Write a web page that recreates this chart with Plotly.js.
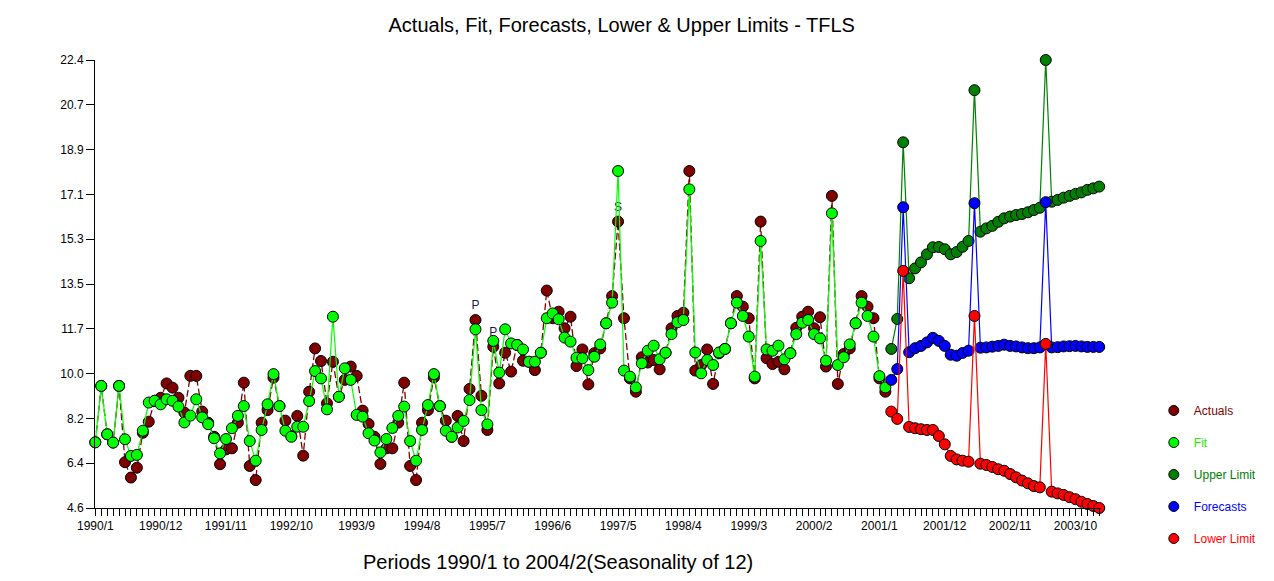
<!DOCTYPE html>
<html><head><meta charset="utf-8">
<script src="https://cdn.plot.ly/plotly-3.0.1.min.js"></script>
<style>html,body{margin:0;padding:0;background:#fff}#chart{width:1274px;height:581px}</style>
</head><body><div id="chart"></div>
<script>
// ---- data ----
const xTickLabels = ['1990/1','1990/12','1991/11','1992/10','1993/9','1994/8','1995/7','1996/6','1997/5','1998/4','1999/3','2000/2','2001/1','2001/12','2002/11','2003/10'];
const xTickEvery = 11;
const yTickLabels = ['4.6','6.4','8.2','10.0','11.7','13.5','15.3','17.1','18.9','20.7','22.4'];
const yMin = 4.6, yMax = 22.4;

// monthly values from 1990/1
const actuals = [
 7.21,9.45,7.53,7.20,9.45,6.42,5.81,6.20,7.59,8.03,8.86,8.98,
 9.55,9.38,8.98,8.39,9.85,9.85,8.43,7.99,7.43,6.34,6.93,6.97,
 7.99,9.58,6.27,5.71,7.99,8.49,9.78,8.65,8.07,7.46,8.26,6.68,
 9.22,10.94,10.44,8.76,10.41,9.02,9.69,10.22,9.85,8.47,7.94,7.43,
 6.35,6.97,6.97,7.99,9.58,6.27,5.71,7.99,8.49,9.79,8.65,8.07,
 7.43,8.26,7.26,9.33,12.07,9.06,7.70,11.01,9.55,10.77,10.02,11.08,
 10.45,10.41,10.08,10.77,13.24,12.14,12.40,11.74,12.20,10.24,10.90,9.51,
 10.75,10.94,11.94,13.02,15.98,12.14,9.75,9.22,10.59,10.38,10.48,10.11,
 10.77,11.74,12.23,12.36,17.99,10.06,10.28,10.90,9.53,10.75,10.92,11.94,
 13.02,12.60,12.14,9.75,15.98,10.55,10.32,10.41,10.11,10.75,11.76,12.20,
 12.40,11.74,12.18,10.22,17.00,9.53,10.72,10.94,11.94,13.02,12.60,12.14,
 9.75,9.22];
const fit = [
 7.21,9.45,7.53,7.20,9.45,7.33,6.67,6.71,7.67,8.79,8.86,8.72,
 8.92,8.86,8.63,8.00,8.27,8.92,8.20,7.93,7.37,6.77,7.34,7.77,
 8.26,8.65,7.26,6.48,7.70,8.72,9.92,8.65,7.67,7.43,7.83,7.83,
 8.85,10.04,9.75,8.52,12.20,9.02,10.15,9.69,8.30,8.23,7.57,7.28,
 6.81,7.34,7.78,8.26,8.63,7.26,6.48,7.70,8.69,9.92,8.65,7.67,
 7.43,7.80,8.06,8.89,11.70,8.49,7.92,11.24,9.98,11.70,11.14,11.08,
 10.90,10.41,10.41,10.77,12.14,12.33,12.10,11.37,11.21,10.57,10.55,10.08,
 10.61,11.10,11.94,12.76,17.99,10.06,9.82,9.39,10.35,10.85,11.05,10.51,
 10.77,11.51,11.98,12.07,17.26,10.78,9.95,10.48,10.28,10.78,10.92,11.94,
 12.76,12.23,11.41,9.82,15.21,10.90,10.85,11.05,10.51,10.75,11.51,11.96,
 12.07,11.51,11.34,10.45,16.31,10.28,10.59,11.10,11.94,12.76,12.23,11.41,
 9.84,9.39];

// forecast horizon starts at 2001/3 (period index 134)
const forecastStart = 134;
const upperLimit = [10.92,12.11,19.13,13.73,14.12,14.36,14.68,14.96,14.97,14.88,14.68,14.77,
 14.98,15.21,21.20,15.58,15.71,15.81,15.97,16.11,16.18,16.24,16.28,16.35,
 16.44,16.53,22.40,16.77,16.84,16.93,17.00,17.08,17.14,17.24,17.30,17.37];
const forecasts = [9.69,10.12,16.55,10.79,10.95,11.04,11.18,11.36,11.24,11.04,10.69,10.65,
 10.76,10.85,16.71,10.97,10.98,11.01,11.04,11.09,11.04,11.02,10.98,10.95,
 10.95,10.98,16.75,10.98,10.99,11.02,11.03,11.04,11.02,11.00,11.00,11.00];
const lowerLimit = [8.43,8.14,14.02,7.82,7.77,7.73,7.70,7.70,7.46,7.13,6.67,6.53,
 6.48,6.44,12.23,6.36,6.31,6.23,6.14,6.08,5.95,5.82,5.69,5.58,
 5.47,5.42,11.12,5.25,5.18,5.12,5.03,4.95,4.85,4.76,4.68,4.60];

// outlier flags on actuals
const outlierIdx = [64, 67, 88];
const outlierFlags = ['P', 'P', 'S'];

// ---- build ----
const histX = actuals.map((_, i) => i);
const fcX = forecasts.map((_, i) => forecastStart + i);
const flagText = actuals.map((_, i) => { const k = outlierIdx.indexOf(i); return k >= 0 ? outlierFlags[k] : ''; });

const MS = 11;
const mk = c => ({color: c, size: MS, line: {color: '#000', width: 1}});
const series = [
  {name: 'Actuals', c: '#800000', tc: '#800000'},
  {name: 'Fit', c: '#00FF00', tc: '#22EE00'},
  {name: 'Upper Limit', c: '#008000', tc: '#008000'},
  {name: 'Forecasts', c: '#0000FF', tc: '#0000FF'},
  {name: 'Lower Limit', c: '#FF0000', tc: '#FF0000'}
];

const traces = [
  {x: histX, y: actuals, mode: 'lines+markers+text', text: flagText, textposition: 'top center',
   textfont: {family: 'Liberation Sans, Arial, sans-serif', size: 12, color: '#1a1a40'},
   line: {color: '#800000', width: 1.3, dash: '7px,3px'}, marker: mk('#800000'),
   showlegend: false, cliponaxis: false, hoverinfo: 'skip'},
  {x: histX, y: fit, mode: 'lines+markers', line: {color: '#00FF00', width: 1.2},
   marker: mk('#00FF00'), showlegend: false, cliponaxis: false, hoverinfo: 'skip'},
  {x: fcX, y: upperLimit, mode: 'lines+markers', line: {color: '#008000', width: 1.2},
   marker: mk('#008000'), showlegend: false, cliponaxis: false, hoverinfo: 'skip'},
  {x: fcX, y: forecasts, mode: 'lines+markers', line: {color: '#0000FF', width: 1.2},
   marker: mk('#0000FF'), showlegend: false, cliponaxis: false, hoverinfo: 'skip'},
  {x: fcX, y: lowerLimit, mode: 'lines+markers', line: {color: '#FF0000', width: 1.2},
   marker: mk('#FF0000'), showlegend: false, cliponaxis: false, hoverinfo: 'skip'}
];
// legend entries (marker only)
series.forEach((s, i) => traces.push({
  x: [null], y: [null], mode: 'markers', marker: {color: s.c, size: 10, line: {color: '#000', width: 1}},
  name: '<span style="color:' + s.tc + '">' + s.name + '</span>', legendgroup: 'g' + i, showlegend: true
}));

const yStep = (yMax - yMin) / (yTickLabels.length - 1);
const font = 'Liberation Sans, Arial, sans-serif';

const layout = {
  width: 1274, height: 581,
  margin: {l: 95, r: 169, t: 60, b: 73, pad: 0},
  paper_bgcolor: '#fff', plot_bgcolor: '#fff',
  font: {family: font, size: 12, color: '#000'},
  showlegend: true,
  title: {text: 'Actuals, Fit, Forecasts, Lower & Upper Limits - TFLS', font: {family: font, size: 20, color: '#000'},
          xref: 'container', x: 0.488, xanchor: 'center', yref: 'container', y: 0.957, yanchor: 'middle'},
  xaxis: {
    range: [-0.05, 169.3], showgrid: false, zeroline: false,
    showline: true, linecolor: '#000', linewidth: 1,
    tickmode: 'array', tickvals: xTickLabels.map((_, i) => i * xTickEvery), ticktext: xTickLabels,
    ticks: 'outside', ticklen: 7, tickcolor: '#000', tickwidth: 1,
    tickfont: {family: font, size: 12, color: '#000'},
    minor: {tickmode: 'linear', tick0: 0, dtick: 1, ticks: 'outside', ticklen: 7, tickcolor: '#000', tickwidth: 1, showgrid: false},
    fixedrange: true
  },
  yaxis: {
    range: [yMin, yMax], showgrid: false, zeroline: false,
    showline: true, linecolor: '#000', linewidth: 1,
    tickmode: 'array', tickvals: yTickLabels.map((_, i) => yMin + i * yStep), ticktext: yTickLabels,
    ticks: 'outside', ticklen: 8, tickcolor: '#000', tickwidth: 1,
    tickfont: {family: font, size: 12, color: '#000'},
    fixedrange: true
  },
  legend: {x: 1.0525, xanchor: 'left', y: 0.25, yanchor: 'top', traceorder: 'grouped', tracegroupgap: 13,
           font: {family: font, size: 12}, bgcolor: 'rgba(0,0,0,0)', borderwidth: 0},
  annotations: [{
    text: 'Periods 1990/1 to 2004/2(Seasonality of 12)', xref: 'paper', yref: 'paper',
    x: (560 - 95) / 1010, y: -(562 - 508) / 448, xanchor: 'center', yanchor: 'middle',
    showarrow: false, font: {family: font, size: 20, color: '#000'}
  }],
  hovermode: false
};

Plotly.newPlot('chart', traces, layout, {staticPlot: true, displayModeBar: false});
</script>
</body></html>
